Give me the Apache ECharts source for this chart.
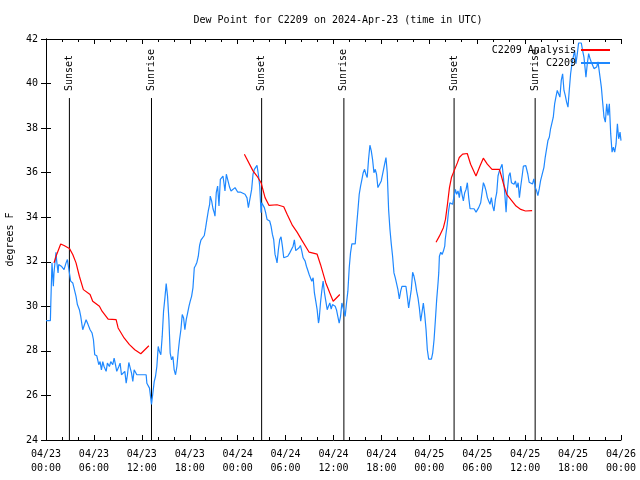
<!DOCTYPE html>
<html>
<head>
<meta charset="utf-8">
<script src="https://cdn.jsdelivr.net/npm/echarts@6/dist/echarts.min.js"></script>
<style>html,body{margin:0;padding:0;background:#fff}#c{width:640px;height:480px}</style>
</head>
<body>
<div id="c"></div>
<script>
// hours since 2024-04-23 00:00 UTC, dew point in degrees F
var obsName = 'C2209';
var anaName = 'C2209 Analysis';
var xTickLabels = ['04/23\n00:00','04/23\n06:00','04/23\n12:00','04/23\n18:00','04/24\n00:00','04/24\n06:00','04/24\n12:00','04/24\n18:00','04/25\n00:00','04/25\n06:00','04/25\n12:00','04/25\n18:00','04/26\n00:00'];
var sunsetHours = [2.93, 27.0, 51.1];
var sunriseHours = [13.21, 37.3, 61.25];
var eventLineTop = 39.35;

var obsSeries = [
[0,29.36],[0.55,29.36],[0.6,30.1],[0.75,31.95],[0.92,30.9],[1.0,31.5],[1.25,32.43],[1.34,32.03],[1.51,31.5],[1.59,31.88],[1.76,31.95],[1.92,31.8],[2.09,31.88],[2.26,31.65],[2.51,31.95],[2.68,32.1],[2.84,32.18],[2.93,31.5],[3.09,31.13],[3.35,31.05],[3.6,30.98],[3.76,30.45],[3.93,30.08],[4.18,29.85],[4.35,29.55],[4.6,28.95],[4.85,28.95],[5.02,29.4],[5.27,29.18],[5.52,28.95],[5.77,28.8],[5.94,28.5],[6.1,27.83],[6.36,27.78],[6.61,27.38],[6.77,27.52],[6.94,27.15],[7.11,27.52],[7.27,27.3],[7.53,27.08],[7.69,27.45],[7.94,27.3],[8.11,27.52],[8.36,27.38],[8.53,27.68],[8.7,27.38],[8.86,27.08],[9.12,27.3],[9.28,27.45],[9.45,26.93],[9.7,26.85],[9.87,27.08],[10.04,26.55],[10.2,26.93],[10.37,27.48],[10.54,27.48],[10.71,27.0],[10.87,26.63],[11.04,27.15],[11.21,27.23],[11.37,26.93],[12.54,26.93],[12.63,26.55],[12.96,26.33],[13.13,26.33],[13.21,25.6],[13.38,26.1],
[13.55,26.62],[13.71,26.85],[13.88,27.3],[14.05,28.2],[14.21,27.97],[14.38,27.83],[14.55,28.65],[14.72,29.78],[14.89,30.38],[15.05,31.02],[15.22,30.45],[15.39,29.4],[15.55,27.9],[15.72,27.6],[15.89,27.75],[16.05,27.15],[16.22,26.93],[16.39,27.3],[16.56,27.97],[16.72,28.5],[16.89,28.95],[17.06,29.63],[17.23,29.48],[17.39,28.95],[17.56,29.4],[17.73,29.7],[17.9,30.0],[18.06,30.23],[18.23,30.45],[18.4,30.83],[18.57,31.73],[18.73,31.83],[18.9,31.98],[19.07,32.25],[19.23,32.73],[19.4,32.97],[19.65,33.0],[19.82,33.18],[19.99,33.53],[20.15,33.9],[20.32,34.28],[20.49,34.58],[20.57,34.95],[20.74,34.73],[20.91,34.38],[21.07,34.2],[21.16,34.05],[21.32,35.1],[21.49,35.4],[21.66,34.5],[21.83,35.7],[21.99,35.78],[22.16,35.85],[22.33,35.4],[22.41,35.18],[22.58,35.93],[22.83,35.96],[23.0,35.33],[23.17,35.18],[23.42,35.18],[23.67,35.33],[24.0,35.13],
[24.33,35.13],[24.5,35.1],[24.92,35.03],[25.17,34.87],[25.34,34.43],[25.59,34.43],[25.75,35.25],[25.92,35.93],[26.09,36.15],[26.26,36.23],[26.42,36.33],[26.59,35.93],[26.76,35.4],[26.93,34.2],[27.01,34.65],[27.18,34.58],[27.34,34.43],[27.51,34.2],[27.68,33.9],[27.84,33.98],[28.01,33.83],[28.18,33.6],[28.35,33.23],[28.51,33.0],[28.68,32.33],[28.85,32.1],[28.93,31.95],[29.1,32.55],[29.27,33.0],[29.43,33.12],[29.6,32.7],[29.77,32.18],[30.02,32.18],[30.27,32.25],[30.52,32.4],[30.77,32.33],[30.94,32.7],[31.1,32.98],[31.27,32.5],[31.44,32.48],[31.69,32.63],[31.86,32.73],[32.03,32.48],[32.2,32.18],[32.45,32.03],[32.61,31.8],[32.78,31.62],[32.95,31.43],[33.11,31.35],[33.28,31.13],[33.45,31.28],[33.61,30.6],[33.78,30.23],[33.95,29.85],[34.12,29.25],[34.2,29.4],[34.37,30.15],[34.53,30.68],[34.7,31.13],[34.87,30.6],[35.04,30.23],[35.21,29.85],[35.37,30.0],[35.54,30.15],[35.71,29.88],[35.87,30.08],[36.04,30.15],[36.21,30.0],[36.37,29.85],[36.54,29.55],[36.71,29.25],
[36.88,29.55],[37.05,30.15],[37.21,29.93],[37.46,29.55],[37.63,30.15],[37.8,30.68],[37.97,31.73],[38.13,32.4],[38.3,32.8],[38.72,32.8],[38.89,33.6],[39.05,34.28],[39.22,35.03],[39.39,35.4],[39.56,35.7],[39.72,36.0],[39.89,36.15],[40.06,35.93],[40.22,35.78],[40.39,36.6],[40.56,37.23],[40.73,36.98],[40.89,36.6],[41.06,36.0],[41.23,36.15],[41.39,35.93],[41.56,35.33],[41.81,35.33],[41.98,35.63],[42.23,35.7],[42.4,36.38],[42.57,36.68],[42.73,36.0],[42.9,34.35],[43.07,33.45],[43.24,32.78],[43.4,32.25],[43.57,31.5],[43.74,31.28],[43.91,31.35],[44.07,30.75],[44.24,30.33],[44.41,30.68],[44.57,30.9],[45.07,30.9],[45.24,30.45],[45.41,29.93],[45.58,29.93],[45.74,30.75],[45.91,31.53],[46.08,31.35],[46.25,31.05],[46.41,30.68],[46.58,30.38],[46.75,29.93],[46.92,29.33],[47.08,29.4],[47.25,30.15],[47.42,29.63],[47.59,28.95],[47.75,28.05],[47.92,27.63],[48.26,27.63],[48.42,27.9],[48.59,28.5],[48.76,29.4],[48.92,30.3],[49.09,31.05],[49.18,31.5],[49.26,32.25],[49.43,32.43],[49.6,32.33],[49.76,32.48],[49.93,32.7],
[49.99,33.0],[50.24,33.68],[50.41,34.28],[50.57,34.65],[50.74,34.73],[50.91,34.58],[51.07,34.65],[51.26,35.25],[51.42,35.03],[51.59,35.18],[51.76,34.88],[51.93,35.4],[52.09,35.03],[52.26,34.73],[52.43,35.1],[52.6,35.25],[52.76,35.55],[52.93,34.88],[53.1,34.38],[53.6,34.38],[53.85,34.23],[54.18,34.43],[54.43,34.65],[54.6,35.1],[54.77,35.55],[54.93,35.4],[55.1,35.18],[55.27,34.88],[55.43,34.73],[55.6,34.58],[55.77,34.88],[55.93,34.5],[56.1,34.28],[56.27,34.8],[56.44,35.1],[56.6,35.85],[56.77,36.08],[56.94,36.0],[57.11,36.38],[57.28,35.78],[57.44,35.1],[57.61,34.23],[57.78,35.25],[57.95,35.85],[58.11,36.0],[58.28,35.55],[58.44,35.63],[58.61,35.48],[58.78,35.63],[58.95,35.33],[59.12,35.55],[59.28,34.88],[59.45,35.4],[59.62,35.85],[59.78,36.3],[59.95,36.33],
[60.08,36.32],[60.33,35.94],[60.5,35.57],[60.75,35.64],[60.92,35.49],[61.09,35.72],[61.26,35.34],[61.43,35.19],[61.59,34.97],[61.76,35.27],[61.93,35.64],[62.18,35.72],[62.35,36.24],[62.51,36.69],[62.68,36.77],[62.85,37.44],[63.02,37.59],[63.18,37.97],[63.35,38.04],[63.52,38.49],[63.69,39.09],[63.85,39.39],[64.02,39.69],[64.19,39.62],[64.35,39.39],[64.52,40.14],[64.69,40.44],[64.86,39.69],[65.02,39.47],[65.19,39.17],[65.36,38.94],[65.52,39.69],[65.69,40.44],[65.86,40.89],[66.02,41.19],[66.19,41.49],[66.36,40.89],[66.53,41.34],[66.69,41.82],[67.03,41.82],[67.19,41.49],[67.36,41.19],[67.53,40.59],[67.61,40.29],[67.78,40.89],[67.95,41.34],[68.12,41.12],[68.28,40.97],[68.45,40.82],[68.62,40.67],[68.79,40.59],[68.95,40.74],[69.12,40.97],[69.37,41.04],[69.54,39.84],[69.7,39.17],[69.87,38.49],[70.04,38.27],[70.21,39.09],[70.37,38.57],[70.54,39.09],[70.71,37.74],[70.88,36.92],[71.04,37.14],[71.21,36.92],[71.38,37.29],[71.55,38.19],[71.71,37.52],[71.88,37.82],[72.0,37.44]
];

var anaSeg1 = [[1.0,31.95],[1.34,32.33],[1.84,32.8],[2.26,32.73],[2.93,32.6],[3.35,32.33],[3.76,31.95],[4.18,31.35],[4.68,30.75],[5.52,30.53],[5.85,30.23],[6.69,30.0],[7.02,29.78],[7.78,29.43],[8.78,29.4],[9.03,29.03],[9.78,28.58],[10.45,28.28],[11.12,28.05],[11.87,27.87],[12.88,28.23]];
var anaSeg2 = [[24.84,36.83],[25.92,36.08],[26.42,35.85],[26.93,35.55],[27.43,34.88],[27.93,34.53],[28.93,34.56],[29.77,34.47],[30.19,34.13],[30.86,33.63],[31.44,33.33],[32.03,32.97],[32.95,32.43],[33.95,32.34],[34.37,31.88],[35.04,31.05],[35.54,30.6],[35.96,30.23],[36.79,30.53]];
var anaSeg3 = [[48.84,32.88],[49.26,33.15],[49.76,33.53],[50.02,33.9],[50.27,34.58],[50.52,35.33],[50.77,35.78],[51.1,36.08],[51.52,36.45],[51.75,36.68],[52.17,36.83],[52.75,36.86],[53.17,36.38],[53.84,35.85],[54.34,36.3],[54.76,36.65],[55.26,36.38],[55.85,36.15],[56.77,36.15],[57.02,35.85],[57.36,35.4],[57.69,35.03],[58.19,34.8],[58.86,34.5],[59.45,34.35],[60.04,34.28],[60.87,34.3]];

var FONT = 'DejaVu Sans Mono';
var anaData = anaSeg1.concat([[null,null]], anaSeg2, [[null,null]], anaSeg3);

function eventSeries(t, text) {
  return {
    type: 'line', silent: true, symbol: 'circle', symbolSize: 0, showSymbol: true, animation: false,
    lineStyle: {color: '#000', width: 1}, itemStyle: {color: '#000'},
    label: {show: false},
    data: [[t, 24], {value: [t, eventLineTop],
      label: {show: true, formatter: text, position: 'top', distance: 7, rotate: 90,
        align: 'left', verticalAlign: 'middle', color: '#000', fontFamily: FONT, fontSize: 10}}],
    z: 1
  };
}

var series = [
  {name: anaName, type: 'line', symbol: 'none', connectNulls: false, data: anaData,
   lineStyle: {color: '#ff0000', width: 1.2}, itemStyle: {color: '#ff0000'}, z: 3},
  {name: obsName, type: 'line', symbol: 'none', data: obsSeries,
   lineStyle: {color: '#1e88ff', width: 1.2}, itemStyle: {color: '#1e88ff'}, z: 2}
];
sunsetHours.forEach(function (t) { series.push(eventSeries(t, 'Sunset')); });
sunriseHours.forEach(function (t) { series.push(eventSeries(t, 'Sunrise')); });

var axisCommon = {
  axisLine: {show: true, lineStyle: {color: '#000', width: 1}},
  splitLine: {show: false}
};

var chart = echarts.init(document.getElementById('c'), null, {renderer: 'canvas'});
chart.setOption({
  animation: false,
  backgroundColor: '#fff',
  title: {text: 'Dew Point for C2209 on 2024-Apr-23 (time in UTC)', left: 333, top: 10, textAlign: 'center',
    textStyle: {fontFamily: FONT, fontSize: 10, fontWeight: 'normal', color: '#000'}},
  legend: {
    data: [anaName, obsName], orient: 'vertical', right: 30, top: 45, align: 'right', padding: 0,
    itemWidth: 29, itemHeight: 2, itemGap: 3, icon: 'rect',
    textStyle: {fontFamily: FONT, fontSize: 10, color: '#000'},
    selectedMode: false
  },
  grid: {left: 46, right: 19, top: 39, bottom: 40, containLabel: false, outerBoundsMode: 'none'},
  xAxis: [
    Object.assign({type: 'value', min: 0, max: 72, interval: 6, position: 'bottom',
      axisTick: {show: true, inside: true, length: 5, lineStyle: {color: '#000'}},
      minorTick: {show: true, splitNumber: 3, length: 3, lineStyle: {color: '#000'}},
      axisLabel: {margin: 7, fontFamily: FONT, fontSize: 10, color: '#000', lineHeight: 14,
        formatter: function (v) { return xTickLabels[Math.round(v / 6)]; }}}, axisCommon),
    Object.assign({type: 'value', min: 0, max: 72, interval: 6, position: 'top',
      axisTick: {show: true, inside: true, length: 5, lineStyle: {color: '#000'}},
      minorTick: {show: true, splitNumber: 3, length: 3, lineStyle: {color: '#000'}},
      axisLabel: {show: false}}, axisCommon)
  ],
  yAxis: [
    Object.assign({type: 'value', min: 24, max: 42, interval: 2, position: 'left',
      name: 'degrees F', nameLocation: 'middle', nameGap: 31, nameRotate: 90,
      nameTextStyle: {fontFamily: FONT, fontSize: 10, color: '#000'},
      axisTick: {show: true, inside: true, length: 5, lineStyle: {color: '#000'}},
      axisLabel: {margin: 8, fontFamily: FONT, fontSize: 10, color: '#000'}}, axisCommon),
    Object.assign({type: 'value', min: 24, max: 42, interval: 2, position: 'right',
      axisTick: {show: true, inside: true, length: 5, lineStyle: {color: '#000'}},
      axisLabel: {show: false}}, axisCommon)
  ],
  series: series
});
</script>
</body>
</html>
